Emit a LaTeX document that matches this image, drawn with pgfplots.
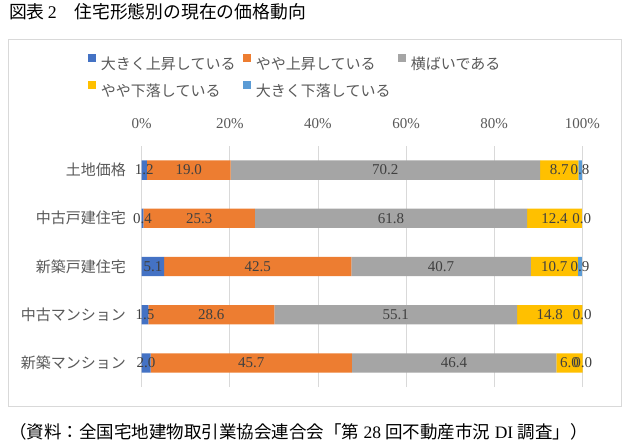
\documentclass[border=0pt]{standalone}
\usepackage{fontspec}
\usepackage{pgfplots}
\usepackage{pgfplotstable}
\pgfplotsset{compat=1.18}
\setmainfont{Liberation Serif}
\newfontfamily\cjk{Noto Sans CJK JP}
\definecolor{c1}{HTML}{4472C4}
\definecolor{c2}{HTML}{ED7D31}
\definecolor{c3}{HTML}{A5A5A5}
\definecolor{c4}{HTML}{FFC000}
\definecolor{c5}{HTML}{5B9BD5}
\definecolor{gridgray}{HTML}{D9D9D9}
\definecolor{tgray}{HTML}{595959}
\definecolor{lgray}{HTML}{404040}
% ex = width drawn for column e (a zero share is drawn as a hair-thin bar so that its 0.0 label shows)
\pgfplotstableread{
idx a b c d e ex
4 1.2 19.0 70.2 8.7 0.8 0.8
3 0.4 25.3 61.8 12.4 0.0 0.001
2 5.1 42.5 40.7 10.7 0.9 0.9
1 1.5 28.6 55.1 14.8 0.0 0.001
0 2.0 45.7 46.4 6.0 0.0 0.001
}\datatable
\newcommand{\fs}[1]{\fontsize{#1}{#1}\selectfont}
\begin{document}
\begin{tikzpicture}
\path[use as bounding box, fill=white] (0,0) rectangle (630bp,-448bp);
\draw[gridgray, line width=0.8bp] (8.3bp,-39bp) rectangle (621.5bp,-406bp);
\node[anchor=west, inner sep=0pt, font=\fs{17.8bp}] at (9bp,-11.5bp) {{\cjk 図表}\,2{\cjk 　住宅形態別の現在の価格動向}};
\node[anchor=west, inner sep=0pt, font=\fs{17.5bp}] at (9bp,-432bp) {{\cjk （資料：全国宅地建物取引業協会連合会「第} 28 {\cjk 回不動産市況} DI {\cjk 調査」）}};
\begin{axis}[
  at={(141.7bp,-387bp)}, anchor=south west,
  scale only axis, width=440.6bp, height=241bp,
  xbar stacked, bar width=19.3bp,
  xmin=0, xmax=100, ymin=-0.5, ymax=4.5,
  xtick={0,20,...,100}, xticklabels={0\%,20\%,40\%,60\%,80\%,100\%},
  xticklabel pos=upper,
  ytick={0,...,4},
  yticklabels={新築マンション,中古マンション,新築戸建住宅,中古戸建住宅,土地価格},
  xmajorgrids, grid style={draw=gridgray, line width=0.8bp},
  axis line style={draw=none},
  major tick length=0pt, tick style={draw=none},
  xticklabel style={font=\fs{15bp}, text=tgray, anchor=center, yshift=22bp, inner sep=0pt},
  yticklabel style={font=\cjk\fs{15bp}, text=tgray, anchor=east, xshift=-15.7bp, inner sep=0pt},
  point meta=explicit,
  /pgf/number format/assume math mode=true,
  nodes near coords={\pgfmathprintnumber[fixed,fixed zerofill,precision=1]{\pgfplotspointmeta}},
  every node near coord/.append style={anchor=center, font=\fs{15bp}, text=lgray, inner sep=0pt},
  clip=false,
  legend columns=3,
  legend style={at={(-0.12188,1.3800)}, anchor=north west, draw=none, fill=none,
    inner sep=0pt, outer sep=0pt, row sep=10bp, column sep=0bp,
    nodes={inner sep=0pt, text height=13bp, text depth=2bp, font=\cjk\fs{15bp}, text=tgray},
    /tikz/every odd column/.append style={column sep=5.3bp}},
  legend image code/.code={\fill[#1] (0bp,1.85bp) rectangle (7.7bp,9.55bp);},
]
\addplot[fill=c1, draw=none] table[x=a, y=idx, meta=a] \datatable;
\addlegendentry{\makebox[142bp][l]{大きく上昇している}}
\addplot[fill=c2, draw=none] table[x=b, y=idx, meta=b] \datatable;
\addlegendentry{\makebox[142bp][l]{やや上昇している}}
\addplot[fill=c3, draw=none] table[x=c, y=idx, meta=c] \datatable;
\addlegendentry{\makebox[142bp][l]{横ばいである}}
\addplot[fill=c4, draw=none] table[x=d, y=idx, meta=d] \datatable;
\addlegendentry{\makebox[142bp][l]{やや下落している}}
\addplot[fill=c5, draw=none] table[x=ex, y=idx, meta=e] \datatable;
\addlegendentry{\makebox[142bp][l]{大きく下落している}}
\end{axis}
\end{tikzpicture}
\end{document}
